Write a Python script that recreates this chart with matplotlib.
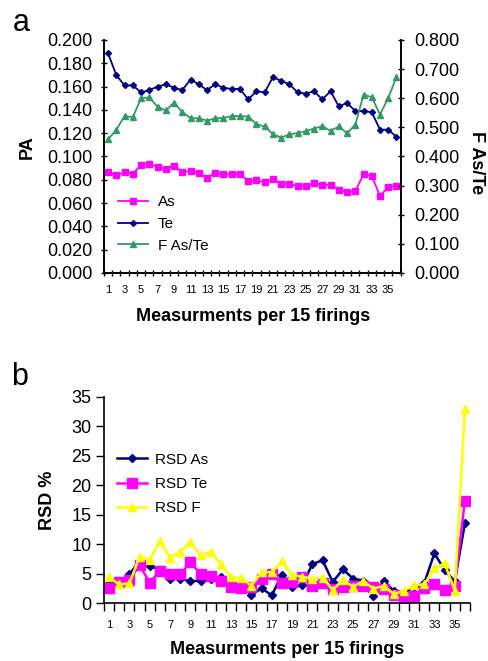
#!/usr/bin/env python3
"""PA and RSD per measurement (15 firings each)."""

import matplotlib
matplotlib.use("Agg")
import matplotlib.pyplot as plt
import numpy as np

plt.rcParams["font.family"] = ["Liberation Sans", "DejaVu Sans"]

meas = np.arange(1, 37)

pa_as = [0.0866, 0.0837, 0.0866, 0.0854, 0.0926, 0.0938, 0.0909, 0.0895, 0.0921,
         0.0863, 0.0877, 0.0857, 0.0817, 0.0860, 0.0846, 0.0849, 0.0849, 0.0791,
         0.0797, 0.0779, 0.0805, 0.0765, 0.0765, 0.0745, 0.0748, 0.0771, 0.0753,
         0.0759, 0.0716, 0.0696, 0.0704, 0.0846, 0.0831, 0.0664, 0.0736, 0.0750]
pa_te = [0.1885, 0.1697, 0.161, 0.161, 0.155, 0.157, 0.160, 0.162, 0.159,
         0.157, 0.166, 0.162, 0.157, 0.162, 0.159, 0.158, 0.158, 0.149,
         0.156, 0.155, 0.168, 0.165, 0.162, 0.155, 0.154, 0.156, 0.149,
         0.156, 0.143, 0.146, 0.139, 0.139, 0.138, 0.123, 0.123, 0.117]
f_as_te = [0.459, 0.492, 0.539, 0.535, 0.600, 0.603, 0.571, 0.558, 0.585,
           0.552, 0.532, 0.531, 0.523, 0.531, 0.532, 0.539, 0.539, 0.537,
           0.511, 0.503, 0.477, 0.465, 0.476, 0.481, 0.487, 0.496, 0.504,
           0.488, 0.503, 0.480, 0.509, 0.612, 0.604, 0.544, 0.601, 0.673]

rsd_as = [3.39, 3.66, 4.91, 7.16, 6.37, 5.64, 4.06, 4.18, 3.72, 3.84, 4.06, 4.40,
          2.93, 3.27, 1.41, 2.54, 1.35, 4.85, 2.71, 3.05, 6.66, 7.28, 3.61, 5.76,
          4.18, 3.84, 1.24, 3.78, 2.14, 1.80, 2.71, 3.39, 8.47, 5.64, 3.72, 13.55]
rsd_te = [2.65, 3.66, 3.95, 6.43, 3.49, 5.53, 4.91, 4.91, 6.99, 4.91, 4.69, 3.78,
          2.82, 2.60, 2.82, 4.12, 4.91, 3.44, 3.56, 4.46, 2.93, 3.49, 2.48, 2.71,
          2.93, 2.93, 2.82, 2.37, 1.35, 0.85, 1.24, 2.65, 3.27, 2.20, 2.99, 17.38]
rsd_f = [4.40, 3.21, 3.39, 7.90, 7.33, 10.55, 7.73, 8.69, 10.38, 8.12, 8.69, 6.60,
         4.40, 4.35, 2.93, 5.30, 5.25, 7.10, 4.75, 4.52, 4.12, 4.35, 2.26, 3.95,
         2.82, 3.78, 2.48, 2.93, 1.58, 2.09, 3.05, 3.21, 5.93, 6.77, 2.14, 32.85]

NAVY = "#000080"
MAGENTA = "#FF00FF"
GREEN = "#339966"
YELLOW = "#FFFF00"
xlabel = "Measurments per 15 firings"


def category_xaxis(ax, pad):
    n = len(meas)
    ax.set_xlim(0.5, n + 0.5)
    ax.set_xticks(np.arange(0.5, n + 1, 1.0))
    ax.set_xticklabels([])
    ax.set_xticks(meas[::2], minor=True)
    ax.set_xticklabels([str(m) for m in meas[::2]], minor=True)
    ax.tick_params(axis="x", which="minor", length=0, labelsize=8, pad=pad)


fig = plt.figure(figsize=(4.88, 6.61), dpi=100)

# ---- panel a
ax = fig.add_axes([0.2131, 0.5870, 0.6078, 0.3525])
ax2 = ax.twinx()
l_as, = ax.plot(meas, pa_as, "s-", color=MAGENTA, lw=1.3, ms=4, label="As")
l_te, = ax.plot(meas, pa_te, "D-", color=NAVY, lw=1.3, ms=3, label="Te")
l_f, = ax2.plot(meas, f_as_te, "^-", color=GREEN, lw=1.3, ms=4.5, label="F As/Te")

ax.set_ylim(0, 0.2)
ax.set_yticks(np.arange(0, 0.201, 0.02))
ax.set_yticklabels([f"{v:.3f}" for v in np.arange(0, 0.201, 0.02)])
ax2.set_ylim(0, 0.8)
ax2.set_yticks(np.arange(0, 0.801, 0.1))
ax2.set_yticklabels([f"{v:.3f}" for v in np.arange(0, 0.801, 0.1)])
category_xaxis(ax, 9)
for a in (ax, ax2):
    a.spines["top"].set_visible(False)
    for s in a.spines.values():
        s.set_linewidth(1.2)
    a.tick_params(which="major", direction="inout", length=5, width=1.0)
ax.tick_params(axis="y", labelsize=13, pad=6)
ax2.tick_params(axis="y", labelsize=13, pad=7)

ax.set_ylabel("PA", fontsize=13, fontweight="bold")
ax.yaxis.set_label_coords(-0.231, 0.54)
ax2.set_ylabel("F As/Te", fontsize=13, fontweight="bold", rotation=-90)
ax2.yaxis.set_label_coords(1.285, 0.472)
ax.set_xlabel(xlabel, fontsize=13, fontweight="bold")
ax.xaxis.set_label_coords(0.502, -0.149)

ax2.legend([l_as, l_te, l_f], ["As", "Te", "F As/Te"], loc="center left",
           bbox_to_anchor=(0.047, 0.21), frameon=False, fontsize=11,
           handlelength=1.96, handletextpad=0.65, labelspacing=0.5,
           borderpad=0, borderaxespad=0)

# ---- panel b
bx = fig.add_axes([0.2131, 0.0873, 0.75, 0.3126])
bx.plot(meas, rsd_as, "D-", color=NAVY, lw=1.8, ms=4.5, label="RSD As")
bx.plot(meas, rsd_te, "s-", color=MAGENTA, lw=1.8, ms=6.5, label="RSD Te")
bx.plot(meas, rsd_f, "^-", color=YELLOW, lw=1.8, ms=6, label="RSD F")
bx.set_ylim(0, 35)
bx.set_yticks(range(0, 36, 5))
category_xaxis(bx, 12)
bx.spines["top"].set_visible(False)
bx.spines["right"].set_visible(False)
for s in bx.spines.values():
    s.set_linewidth(1.2)
bx.tick_params(which="major", direction="out", length=6, width=1.0)
bx.tick_params(axis="y", labelsize=13, pad=3)

bx.set_ylabel("RSD %", fontsize=13, fontweight="bold")
bx.yaxis.set_label_coords(-0.132, 0.5)
bx.set_xlabel(xlabel, fontsize=13, fontweight="bold")
bx.xaxis.set_label_coords(0.5, -0.1825)
bx.legend(loc="center left", bbox_to_anchor=(0.0355, 0.577), frameon=False,
          fontsize=11, handlelength=1.96, handletextpad=0.55, labelspacing=0.68,
          borderpad=0, borderaxespad=0)

fig.text(0.0445, 1 - 23.3 / 661, "a", fontsize=22, ha="center", va="center")
fig.text(0.041, 1 - 376.7 / 661, "b", fontsize=22, ha="center", va="center")

fig.savefig("out.png", dpi=100)
